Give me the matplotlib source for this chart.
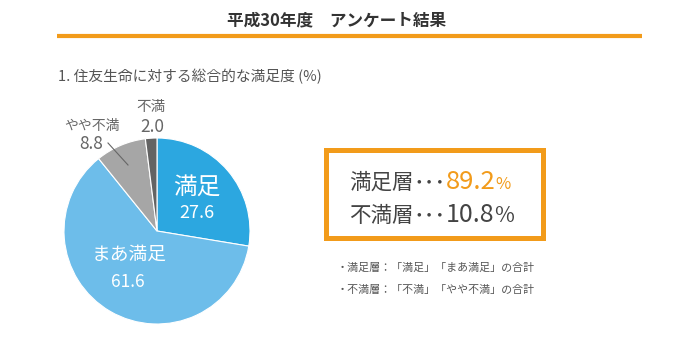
import matplotlib.pyplot as plt
from matplotlib.patches import Rectangle
from matplotlib.lines import Line2D

plt.rcParams['font.family'] = ['Noto Sans CJK JP', 'DejaVu Sans']

# ---------------------------
# DATA
# ---------------------------
labels = ["満足", "まあ満足", "やや不満", "不満"]
values = [27.6, 61.6, 8.8, 2.0]
colors = ["#2ca7e0", "#6dbdea", "#a6a6a6", "#636363"]
satisfied_total = 89.2
dissatisfied_total = 10.8

W, H = 675, 358
ORANGE = "#f29b1a"
GRAY = "#666666"
DARK = "#444444"

fig = plt.figure(figsize=(W / 100, H / 100), dpi=100)
renderer = fig.canvas.get_renderer()


def px(x, y):
    return x / W, 1 - y / H


def text_run(x, y, pieces):
    # draw a row of text pieces one after the other (pixel coords)
    for s, size, color in pieces:
        t = fig.text(*px(x, y), s, ha="left", va="baseline", fontsize=size, color=color)
        bb = t.get_window_extent(renderer)
        x += bb.width


# ---------------------------
# HEADER
# ---------------------------
fig.text(*px(337, 20), "平成30年度　アンケート結果", ha="center", va="center",
         fontsize=12, fontweight="bold", color="#333333")
fig.add_artist(Line2D([57 / W, 642 / W], [1 - 36 / H, 1 - 36 / H],
                      color=ORANGE, lw=3, solid_capstyle="butt"))
fig.text(*px(58, 77), "1. 住友生命に対する総合的な満足度 (%)", ha="left", va="center",
         fontsize=10.6, color="#555555")

# ---------------------------
# PIE
# ---------------------------
cx, cy, r = 157, 231, 93
ax = fig.add_axes([(cx - r) / W, (H - cy - r) / H, 2 * r / W, 2 * r / H])
ax.pie(values, colors=colors, startangle=90, counterclock=False, radius=1,
       wedgeprops=dict(edgecolor="white", linewidth=0.8))
ax.set_xlim(-1, 1)
ax.set_ylim(-1, 1)
ax.set_aspect("auto")
ax.axis("off")

# slice labels
fig.text(*px(197, 187), labels[0], ha="center", va="center", fontsize=17, color="white")
fig.text(*px(197, 213), f"{values[0]}", ha="center", va="center", fontsize=13, color="white")
fig.text(*px(129, 254), labels[1], ha="center", va="center", fontsize=13.5, color="white")
fig.text(*px(128, 282), f"{values[1]}", ha="center", va="center", fontsize=12.5, color="white")
fig.text(*px(92, 126), labels[2], ha="center", va="center", fontsize=10, color=GRAY)
fig.text(*px(91, 144), f"{values[2]}", ha="center", va="center", fontsize=12.5, color=GRAY)
fig.text(*px(151, 107), labels[3], ha="center", va="center", fontsize=10.5, color=GRAY)
fig.text(*px(152, 127), f"{values[3]}", ha="center", va="center", fontsize=12.5, color=GRAY)
fig.add_artist(Line2D([108 / W, 128 / W], [1 - 143 / H, 1 - 165 / H], color=GRAY, lw=0.8))

# ---------------------------
# SUMMARY BOX
# ---------------------------
fig.add_artist(Rectangle(px(326, 238), 217 / W, 88 / H, transform=fig.transFigure,
                         fill=False, edgecolor=ORANGE, lw=3.6))
text_run(349, 189, [("満足層", 15.5, DARK), ("･･･", 15.5, DARK),
                    (f"{satisfied_total}", 18.5, ORANGE), ("%", 12, ORANGE)])
text_run(349, 222, [("不満層", 15.5, DARK), ("･･･", 15.5, DARK),
                    (f"{dissatisfied_total}", 18, DARK), ("%", 15.5, DARK)])

fig.text(*px(337, 268), "・満足層：「満足」「まあ満足」の合計", ha="left", va="center",
         fontsize=7.9, color="#555555")
fig.text(*px(337, 290), "・不満層：「不満」「やや不満」の合計", ha="left", va="center",
         fontsize=7.9, color="#555555")

fig.savefig("out.png", dpi=100, facecolor="white")
